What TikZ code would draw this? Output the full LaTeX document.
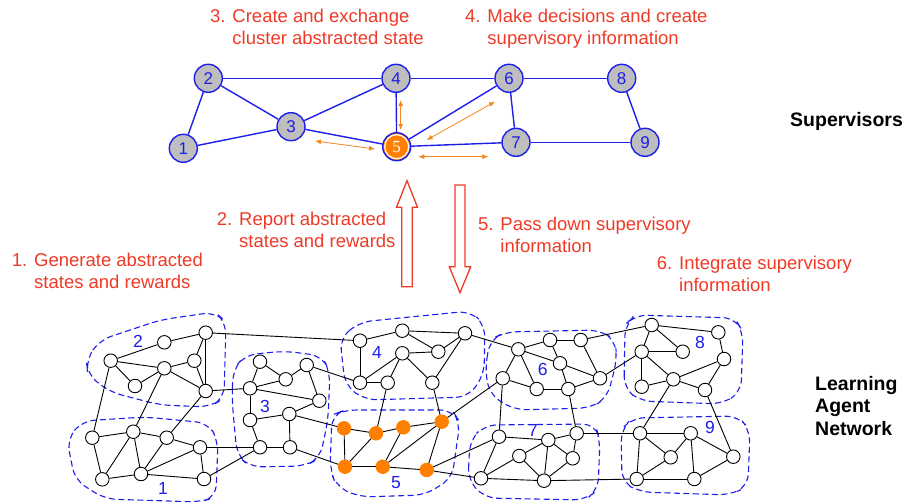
\documentclass[tikz,border=0pt]{standalone}
\usepackage{fontspec}
\setmainfont{Liberation Sans}
\newfontfamily\numfont{Liberation Serif}
\usetikzlibrary{arrows.meta}
\definecolor{noteRed}{RGB}{238,58,38}
\definecolor{supBlue}{RGB}{30,30,235}
\definecolor{supGray}{RGB}{190,190,190}
\definecolor{agentOrange}{RGB}{255,128,0}
\definecolor{msgOrange}{RGB}{245,135,30}
\begin{document}
\begin{tikzpicture}[x=1pt,y=-1pt,
  note/.style={text=noteRed,font=\fontsize{18.5}{21.8}\selectfont,align=left,anchor=base west,inner sep=0pt},
  tier/.style={font=\bfseries\fontsize{19.5}{22.5}\selectfont,align=left,anchor=base west,inner sep=0pt},
  supnode/.style={circle,draw=supBlue,line width=1.4pt,fill=supGray,minimum size=28pt,inner sep=0pt,text=supBlue,font=\fontsize{17}{17}\selectfont},
  supedge/.style={draw=supBlue,line width=1.4pt},
  msg/.style={draw=msgOrange,line width=.8pt,{Latex[length=6pt,width=5pt]}-{Latex[length=6pt,width=5pt]}},
  agent/.style={circle,draw=black,line width=.9pt,fill=white,minimum size=13.5pt,inner sep=0pt},
  busy/.style={agent,draw=agentOrange,fill=agentOrange},
  link/.style={draw=black,line width=.9pt},
  cluster/.style={draw=supBlue,dash pattern=on 6pt off 3.5pt,line width=1.1pt,rounded corners=12pt},
  clabel/.style={text=supBlue,font=\fontsize{17.5}{17.5}\selectfont,inner sep=0pt},
  handoff/.style={draw=noteRed,fill=white,line width=1.3pt}]
\useasboundingbox (0,0) rectangle (907,503);

% supervisors
\foreach \n/\x/\y in {1/183.3/148.3,2/208.3/78.3,3/291/126.7,4/396/78.3,6/509/78.3,7/516/142.3,8/621.7/78.3,9/645/142.3}
  \node[supnode] (s\n) at (\x,\y) {\n};
\node[supnode,fill=agentOrange,text=white,font=\numfont\fontsize{17}{17}\selectfont] (s5) at (396.7,146.7) {5};
\draw[white,line width=1.2pt] (s5) circle (12pt);
\foreach \a/\b in {1/2,1/3,2/3,2/4,3/4,3/5,4/5,4/6,5/6,5/7,6/7,6/8,7/9,8/9}
  \draw[supedge] (s\a) -- (s\b);
\coordinate (m35a) at (315,141); \coordinate (m35b) at (375,149);
\coordinate (m45a) at (400.7,100); \coordinate (m45b) at (400.7,130);
\coordinate (m56a) at (426.7,140); \coordinate (m56b) at (495,101.7);
\coordinate (m57a) at (418.3,156.7); \coordinate (m57b) at (488.3,156.7);
\draw[msg] (m35a) -- (m35b);
\draw[msg] (m45a) -- (m45b);
\draw[msg] (m56a) -- (m56b);
\draw[msg] (m57a) -- (m57b);

% report up / pass down
\draw[handoff] (401.7,286.7) -- (401.7,207.3) -- (396.5,207.3) -- (407,180.7) -- (417.5,207.3) -- (412.3,207.3) -- (412.3,286.7) -- cycle;
\draw[handoff] (455,185) -- (455,266.7) -- (449.3,266.7) -- (460,292.7) -- (470.7,266.7) -- (465,266.7) -- (465,185) -- cycle;

% clusters
\draw[cluster] (67,440) -- (82,421) -- (145,417) -- (208,423) -- (218,440) -- (216,497) -- (200,502) -- (105,499) -- (75,480) -- cycle;
\draw[cluster] (86,360) -- (100,340) -- (160,320) -- (215,312) -- (226,322) -- (224,398) -- (210,407) -- (160,405) -- (110,392) -- (88,375) -- cycle;
\draw[cluster] (232,400) -- (233,370) -- (245,355) -- (285,351) -- (322,356) -- (330,372) -- (328,420) -- (320,458) -- (305,466) -- (250,467) -- (237,455) -- cycle;
\draw[cluster] (340,338) -- (360,322) -- (470,311) -- (485,325) -- (484,375) -- (468,397) -- (365,400) -- (345,385) -- cycle;
\draw[cluster] (332,415) -- (345,410) -- (452,410) -- (460,422) -- (452,478) -- (425,495) -- (360,497) -- (337,487) -- (330,470) -- cycle;
\draw[cluster] (485,370) -- (490,340) -- (505,332) -- (600,330) -- (615,340) -- (617,360) -- (607,398) -- (590,408) -- (515,410) -- (490,395) -- cycle;
\draw[cluster] (468,480) -- (470,440) -- (485,425) -- (595,424) -- (600,440) -- (598,490) -- (585,500) -- (485,498) -- cycle;
\draw[cluster] (624,388) -- (625,325) -- (635,315) -- (735,318) -- (743,332) -- (741,392) -- (722,404) -- (640,401) -- cycle;
\draw[cluster] (622,482) -- (621,430) -- (632,418) -- (738,416) -- (750,430) -- (748,486) -- (730,495) -- (640,492) -- cycle;

% learning agents
\foreach \n/\x/\y in {a1/92.3/437.7,b1/133.3/431.7,c1/166.7/437.7,d1/200/447.3,e1/102.3/479.3,f1/141/474,g1/204/479,
  a2/205.7/332.7,b2/164.3/342.3,c2/110.7/360.7,d2/194.3/360.7,e2/164.3/368.3,f2/135/386,g2/205.7/391,
  a3/260/361.7,b3/306.7/365,c3/285.7/379.3,d3/250/388.3,e3/319.3/400.7,f3/250/420,g3/289.3/414,h3/260/447.3,i3/290/447.3,
  a4/360/340.7,b4/402.3/330.7,c4/465/333.3,d4/438.3/351.7,e4/402.3/353.3,f4/360/382.7,g4/387.7/382.7,h4/432.3/382.7,
  a6/518.3/349.3,b6/550/340,c6/580.7/340,d6/560/363.3,e6/502.7/378.3,f6/536.7/389,g6/568.3/389,h6/600/378.3,
  a7/499/436.7,b7/548.3/440,c7/576.7/433.3,d7/519.3/456,e7/572.7/458.3,f7/481/478.3,g7/544/480.7,
  a8/651.7/325,b8/718.3/332.3,c8/641.7/351.7,d8/682.7/351.7,e8/724/359,f8/641.7/386.7,g8/673.3/379.3,h8/705/390,
  a9/640/433.3,b9/690.7/433.3,c9/670.7/457.3,d9/733.3/456.7,e9/636.7/479,f9/694.3/479}
  \node[agent] (\n) at (\x,\y) {};
\foreach \n/\x/\y in {a5/344/428.3,b5/376/433.3,c5/403.3/427.3,d5/441.7/421.7,e5/345/466.7,f5/382.7/466.7,g5/426.7/470}
  \node[busy] (\n) at (\x,\y) {};
\foreach \a/\b in {a1/b1,b1/c1,c1/d1,a1/e1,b1/e1,b1/f1,c1/f1,f1/d1,f1/e1,f1/g1,d1/g1,
  a2/b2,b2/c2,c2/e2,c2/f2,f2/e2,e2/d2,d2/a2,d2/g2,a2/g2,e2/g2,
  c2/a1,e2/b1,g2/c1,g2/d3,a2/a4,d1/h3,g1/h3,
  a3/c3,c3/b3,b3/e3,c3/d3,a3/d3,d3/e3,d3/f3,f3/g3,g3/e3,f3/h3,h3/i3,g3/i3,b3/f4,g3/a5,i3/e5,
  a4/b4,b4/c4,b4/d4,c4/d4,d4/e4,e4/f4,a4/f4,f4/g4,e4/g4,e4/h4,c4/h4,g4/b5,h4/d5,c4/a6,
  a5/b5,b5/c5,c5/d5,a5/e5,e5/b5,e5/f5,f5/c5,f5/d5,d5/g5,f5/g5,d5/e6,g5/a7,g5/f7,
  a6/b6,b6/d6,a6/d6,a6/e6,a6/f6,d6/g6,d6/h6,c6/h6,b6/c6,e6/f6,f6/g6,g6/h6,c6/a8,h6/c8,e6/a7,g6/c7,
  a7/b7,b7/c7,a7/f7,b7/d7,b7/g7,b7/e7,c7/e7,d7/f7,d7/g7,e7/g7,f7/g7,c7/a9,g7/e9,
  a8/b8,a8/c8,a8/d8,b8/e8,c8/d8,c8/f8,c8/g8,f8/g8,g8/e8,h8/e8,g8/h8,g8/a9,h8/d9,
  a9/b9,a9/c9,a9/e9,b9/c9,b9/f9,b9/d9,c9/e9,e9/f9,f9/d9}
  \draw[link] (\a) -- (\b);
\foreach \k/\x/\y in {1/163/488,2/138/341,3/265/406,4/377/352,5/396/483,6/542.7/369,7/533/430.5,8/700/342,9/710/427}
  \node[clabel] (lab\k) at (\x,\y) {\k};

% steps (base = last line)
\node[note] (step3) at (210,44.5) {3. Create and exchange\\\phantom{3. }cluster abstracted state};
\node[note] (step4) at (465,44.5) {4. Make decisions and create\\\phantom{4. }supervisory information};
\node[note] (step2) at (216.7,247.5) {2. Report abstracted\\\phantom{2. }states and rewards};
\node[note] (step5) at (478,252) {5. Pass down supervisory\\\phantom{5. }information};
\node[note] (step1) at (11.7,288.5) {1. Generate abstracted\\\phantom{1. }states and rewards};
\node[note] (step6) at (656.7,291.5) {6. Integrate supervisory\\\phantom{6. }information};
\node[tier] (sup) at (790,126.7) {Supervisors};
\node[tier] (lan) at (815,435) {Learning\\Agent\\Network};
\end{tikzpicture}
\end{document}
